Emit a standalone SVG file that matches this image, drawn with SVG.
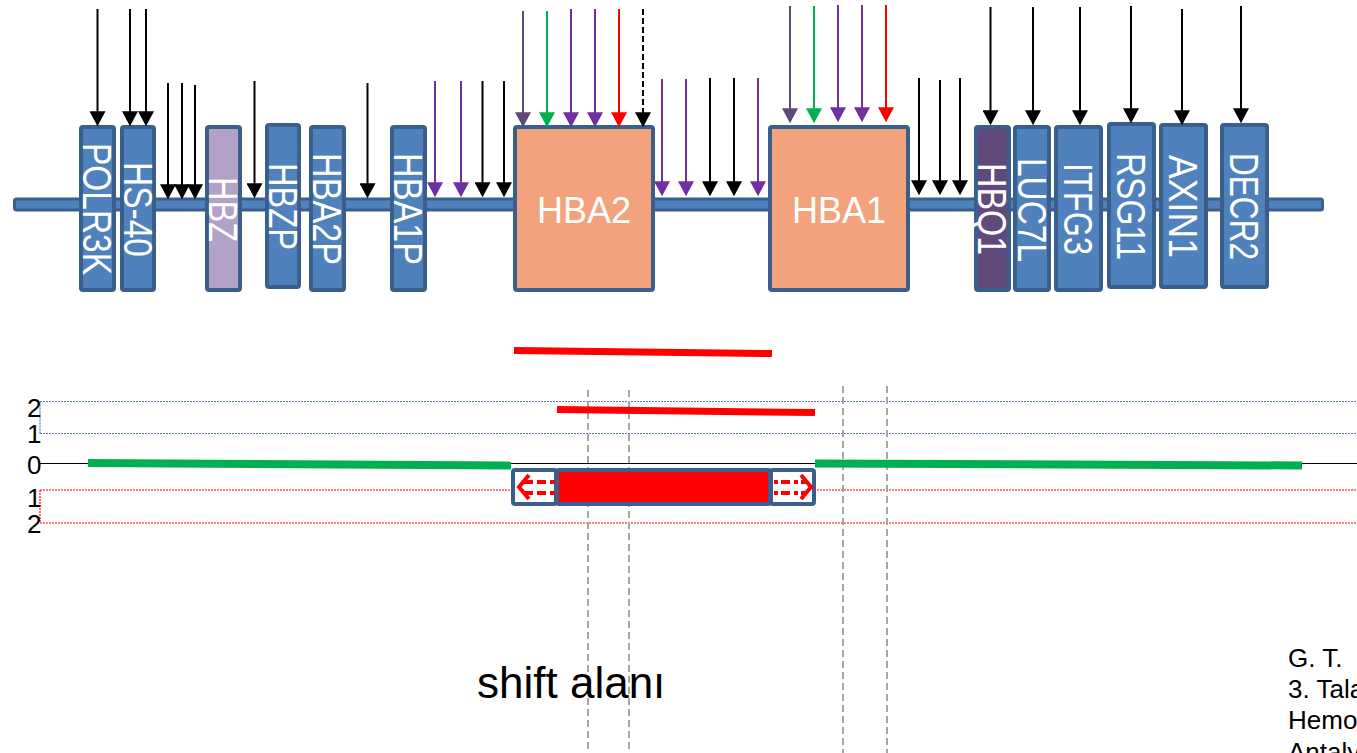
<svg xmlns="http://www.w3.org/2000/svg" width="1357" height="753" viewBox="0 0 1357 753">
<style>
.gene{fill:#4F81BD;stroke:#3A5F8C;stroke-width:4}
.big{fill:#F2A37E;stroke:#3A5F8C;stroke-width:4}
.vl{font-family:"Liberation Sans",Arial,sans-serif;font-size:40px;fill:#fff;text-anchor:middle}
.hl{font-family:"Liberation Sans",Arial,sans-serif;font-size:36px;fill:#fff;text-anchor:middle}
.ar{stroke-width:2;fill:none}
.k{stroke:#000}.p{stroke:#7030A0}.dp{stroke:#5F497A}.g{stroke:#00B050}.r{stroke:#FF0000}
.num{font-family:"Liberation Sans",Arial,sans-serif;font-size:26px;fill:#000}
.note{font-family:"Liberation Sans",Arial,sans-serif;font-size:26px;fill:#000}
.vd{stroke:#A6A6A6;stroke-width:2;stroke-dasharray:7,4;fill:none}
</style>
<defs>
<marker id="hk" markerUnits="userSpaceOnUse" markerWidth="16" markerHeight="16" viewBox="0 0 14 15" refX="10" refY="7.5" orient="auto"><path d="M0,0L14,7.5L0,15z" fill="#000"/></marker>
<marker id="hp" markerUnits="userSpaceOnUse" markerWidth="16" markerHeight="16" viewBox="0 0 14 15" refX="10" refY="7.5" orient="auto"><path d="M0,0L14,7.5L0,15z" fill="#7030A0"/></marker>
<marker id="hdp" markerUnits="userSpaceOnUse" markerWidth="16" markerHeight="16" viewBox="0 0 14 15" refX="10" refY="7.5" orient="auto"><path d="M0,0L14,7.5L0,15z" fill="#5F497A"/></marker>
<marker id="hg" markerUnits="userSpaceOnUse" markerWidth="16" markerHeight="16" viewBox="0 0 14 15" refX="10" refY="7.5" orient="auto"><path d="M0,0L14,7.5L0,15z" fill="#00B050"/></marker>
<marker id="hr" markerUnits="userSpaceOnUse" markerWidth="16" markerHeight="16" viewBox="0 0 14 15" refX="10" refY="7.5" orient="auto"><path d="M0,0L14,7.5L0,15z" fill="#FF0000"/></marker>
</defs>
<rect width="1357" height="753" fill="#fff"/>

<g id="backbone"><rect x="14.5" y="199" width="1308" height="11" rx="2" fill="#4F81BD" stroke="#3A5F8C" stroke-width="3"/></g>

<g id="POLR3K"><rect class="gene" x="81" y="127" width="33" height="163" rx="2"/><text class="vl" transform="translate(97,209) rotate(90)" y="14.3" textLength="132" lengthAdjust="spacingAndGlyphs">POLR3K</text></g>
<g id="HS-40"><rect class="gene" x="122" y="127" width="32" height="163" rx="2"/><text class="vl" transform="translate(138,209.5) rotate(90)" y="14.3" textLength="95" lengthAdjust="spacingAndGlyphs">HS-40</text></g>
<g id="HBZ"><rect class="gene" style="fill:#B3A2C7" x="207" y="127" width="33" height="163" rx="2"/><text class="vl" transform="translate(223.5,209.5) rotate(90)" y="14.3" textLength="65" lengthAdjust="spacingAndGlyphs">HBZ</text></g>
<g id="HBZP"><rect class="gene" x="267" y="125" width="32" height="162" rx="2"/><text class="vl" transform="translate(283,206.5) rotate(90)" y="14.3" textLength="87" lengthAdjust="spacingAndGlyphs">HBZP</text></g>
<g id="HBA2P"><rect class="gene" x="311" y="127" width="33" height="163" rx="2"/><text class="vl" transform="translate(327.5,209) rotate(90)" y="14.3" textLength="112" lengthAdjust="spacingAndGlyphs">HBA2P</text></g>
<g id="HBA1P"><rect class="gene" x="392" y="127" width="33" height="163" rx="2"/><text class="vl" transform="translate(408.5,209) rotate(90)" y="14.3" textLength="112" lengthAdjust="spacingAndGlyphs">HBA1P</text></g>
<g id="HBA2"><rect class="big" x="515" y="127" width="138" height="163" rx="2"/><text class="hl" x="584" y="223">HBA2</text></g>
<g id="HBA1"><rect class="big" x="770" y="127" width="138" height="163" rx="2"/><text class="hl" x="839" y="223">HBA1</text></g>
<g id="HBQ1"><rect class="gene" style="fill:#604A7B" x="976" y="127" width="33" height="163" rx="2"/><text class="vl" transform="translate(992.5,209) rotate(90)" y="14.3" textLength="92" lengthAdjust="spacingAndGlyphs">HBQ1</text></g>
<g id="LUC7L"><rect class="gene" x="1015" y="127" width="34" height="163" rx="2"/><text class="vl" transform="translate(1032,210) rotate(90)" y="14.3" textLength="104" lengthAdjust="spacingAndGlyphs">LUC7L</text></g>
<g id="ITFG3"><rect class="gene" x="1056" y="127" width="45" height="163" rx="2"/><text class="vl" transform="translate(1078.5,209) rotate(90)" y="14.3" textLength="92" lengthAdjust="spacingAndGlyphs">ITFG3</text></g>
<g id="RSG11"><rect class="gene" x="1109" y="124" width="45" height="163" rx="2"/><text class="vl" transform="translate(1131,206.5) rotate(90)" y="14.3" textLength="107" lengthAdjust="spacingAndGlyphs">RSG11</text></g>
<g id="AXIN1"><rect class="gene" x="1161" y="125" width="45" height="162" rx="2"/><text class="vl" transform="translate(1183,206.5) rotate(90)" y="14.3" textLength="103" lengthAdjust="spacingAndGlyphs">AXIN1</text></g>
<g id="DECR2"><rect class="gene" x="1222" y="125" width="45" height="162" rx="2"/><text class="vl" transform="translate(1244,206.5) rotate(90)" y="14.3" textLength="107" lengthAdjust="spacingAndGlyphs">DECR2</text></g>

<g id="connectors">
<line class="ar k" x1="97.5" y1="9" x2="97.5" y2="122" marker-end="url(#hk)"/>
<line class="ar k" x1="130" y1="9" x2="130" y2="122" marker-end="url(#hk)"/>
<line class="ar k" x1="146" y1="9" x2="146" y2="122" marker-end="url(#hk)"/>
<line class="ar k" x1="168" y1="83" x2="168" y2="195" marker-end="url(#hk)"/>
<line class="ar k" x1="182" y1="83" x2="182" y2="195" marker-end="url(#hk)"/>
<line class="ar k" x1="195" y1="85" x2="195" y2="195" marker-end="url(#hk)"/>
<line class="ar k" x1="254.5" y1="81" x2="254.5" y2="194" marker-end="url(#hk)"/>
<line class="ar k" x1="367.5" y1="83" x2="367.5" y2="194" marker-end="url(#hk)"/>
<line class="ar p" x1="435" y1="81" x2="435" y2="193" marker-end="url(#hp)"/>
<line class="ar p" x1="461" y1="81" x2="461" y2="193" marker-end="url(#hp)"/>
<line class="ar k" x1="482.5" y1="81" x2="482.5" y2="193" marker-end="url(#hk)"/>
<line class="ar k" x1="504" y1="81" x2="504" y2="193" marker-end="url(#hk)"/>
<line class="ar dp" x1="523" y1="11" x2="523" y2="123" marker-end="url(#hdp)"/>
<line class="ar g" x1="547" y1="11" x2="547" y2="123" marker-end="url(#hg)"/>
<line class="ar p" x1="571" y1="9" x2="571" y2="123" marker-end="url(#hp)"/>
<line class="ar p" x1="595" y1="9" x2="595" y2="123" marker-end="url(#hp)"/>
<line class="ar r" x1="619" y1="9" x2="619" y2="123" marker-end="url(#hr)"/>
<line class="ar k" x1="643" y1="9" x2="643" y2="123" stroke-dasharray="6,3" marker-end="url(#hk)"/>
<line class="ar p" x1="662" y1="79" x2="662" y2="192" marker-end="url(#hp)"/>
<line class="ar p" x1="686" y1="79" x2="686" y2="192" marker-end="url(#hp)"/>
<line class="ar k" x1="710" y1="78" x2="710" y2="192" marker-end="url(#hk)"/>
<line class="ar k" x1="734" y1="78" x2="734" y2="192" marker-end="url(#hk)"/>
<line class="ar p" x1="758" y1="78" x2="758" y2="192" marker-end="url(#hp)"/>
<line class="ar dp" x1="790" y1="6" x2="790" y2="119" marker-end="url(#hdp)"/>
<line class="ar g" x1="814" y1="6" x2="814" y2="119" marker-end="url(#hg)"/>
<line class="ar p" x1="838" y1="5" x2="838" y2="118" marker-end="url(#hp)"/>
<line class="ar p" x1="862" y1="5" x2="862" y2="118" marker-end="url(#hp)"/>
<line class="ar r" x1="886" y1="5" x2="886" y2="118" marker-end="url(#hr)"/>
<line class="ar k" x1="919" y1="78" x2="919" y2="191" marker-end="url(#hk)"/>
<line class="ar k" x1="940" y1="80" x2="940" y2="191" marker-end="url(#hk)"/>
<line class="ar k" x1="960" y1="78" x2="960" y2="191" marker-end="url(#hk)"/>
<line class="ar k" x1="990.5" y1="7" x2="990.5" y2="121" marker-end="url(#hk)"/>
<line class="ar k" x1="1033" y1="7" x2="1033" y2="121" marker-end="url(#hk)"/>
<line class="ar k" x1="1080" y1="7" x2="1080" y2="121" marker-end="url(#hk)"/>
<line class="ar k" x1="1131" y1="6" x2="1131" y2="119" marker-end="url(#hk)"/>
<line class="ar k" x1="1182" y1="9" x2="1182" y2="121" marker-end="url(#hk)"/>
<line class="ar k" x1="1241" y1="6" x2="1241" y2="119" marker-end="url(#hk)"/>
</g>

<g id="scale">
<path d="M40,401.5H1357M40,433.5H1357M40,401.5V433.5" fill="none" stroke="#5B7BAA" stroke-width="1.2" stroke-dasharray="2,1"/>
<path d="M40,490H1357M40,523H1357M40,490V523" fill="none" stroke="#FF0000" stroke-width="1.2" stroke-dasharray="2,1"/>
<line x1="40" y1="463.5" x2="1357" y2="463.5" stroke="#000" stroke-width="1"/>
<text class="num" x="27" y="417">2</text>
<text class="num" x="27" y="443">1</text>
<text class="num" x="27" y="474">0</text>
<text class="num" x="27" y="507">1</text>
<text class="num" x="27" y="533">2</text>
</g>

<g id="shift-lines">
<line x1="588" y1="390" x2="588" y2="753" class="vd"/>
<line x1="629" y1="390" x2="629" y2="753" class="vd"/>
<line x1="843" y1="386" x2="843" y2="753" class="vd"/>
<line x1="887" y1="386" x2="887" y2="753" class="vd"/>
</g>

<g id="segments">
<line x1="514" y1="350.5" x2="772" y2="353.5" stroke="#FF0000" stroke-width="7"/>
<line x1="557" y1="409.5" x2="815" y2="412.5" stroke="#FF0000" stroke-width="7"/>
<line x1="88" y1="463" x2="511" y2="465.5" stroke="#00B050" stroke-width="8"/>
<line x1="815" y1="463.5" x2="1302" y2="465.5" stroke="#00B050" stroke-width="8"/>
</g>

<g id="deletion">
<rect x="513" y="470" width="43" height="34" rx="2" fill="#fff" stroke="#3A5F8C" stroke-width="4"/>
<rect x="771" y="470" width="43" height="34" rx="2" fill="#fff" stroke="#3A5F8C" stroke-width="4"/>
<rect x="557" y="470" width="213" height="34" rx="2" fill="#FF0000" stroke="#3A5F8C" stroke-width="4"/>
<path d="M529,475L519,487L529,499" fill="none" stroke="#FF0000" stroke-width="4"/>
<path d="M524,482H555M524,493H555" fill="none" stroke="#FF0000" stroke-width="4" stroke-dasharray="9,4"/>
<path d="M801,475L811,487L801,499" fill="none" stroke="#FF0000" stroke-width="4"/>
<path d="M774,482H806M774,493H806" fill="none" stroke="#FF0000" stroke-width="4" stroke-dasharray="4,3,9,4"/>
</g>

<text x="477" y="698" font-family="Liberation Sans, Arial, sans-serif" font-size="44" fill="#000">shift alanı</text>

<g id="note">
<text class="note" x="1288" y="667">G. T.</text>
<text class="note" x="1288" y="698">3. Tala</text>
<text class="note" x="1288" y="729">Hemo</text>
<text class="note" x="1288" y="761">Antaly</text>
</g>
</svg>
